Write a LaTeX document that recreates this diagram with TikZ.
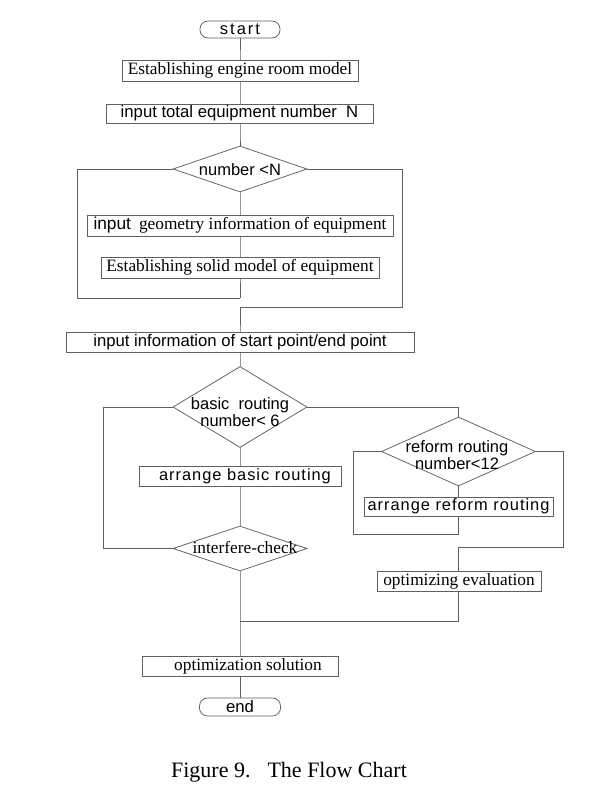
\documentclass[tikz,border=0pt]{standalone}
\usepackage{fontspec}
\setmainfont{Liberation Serif}
\newfontfamily\sansf{Liberation Sans}
\newfontfamily\sanswide[LetterSpace=6]{Liberation Sans}
\newfontfamily\sansstart[LetterSpace=12]{Liberation Sans}
\usetikzlibrary{shapes.geometric}
\definecolor{linec}{RGB}{95,95,95}
\tikzset{
  line/.style={draw=linec, line width=0.75pt},
  box/.style={draw=linec, line width=0.75pt, rectangle, inner sep=0pt, fill=white},
  term/.style={box, rounded corners=8pt},
  dia/.style={draw=linec, line width=0.75pt, diamond, inner sep=0pt, fill=white},
  ser/.style={font=\fontsize{17.3}{18}\selectfont},
  san/.style={font=\sansf\fontsize{16.7}{17}\selectfont},
  wid/.style={font=\sanswide\fontsize{16.4}{17}\selectfont},
  dtext/.style={align=center, inner sep=0pt, font=\sansf\fontsize{16.5}{16.5}\selectfont}
}
\begin{document}
\begin{tikzpicture}[x=1pt,y=-1pt]
\useasboundingbox[fill=white] (0,0) rectangle (595,792);

% junction coordinates
\coordinate (j1) at (240,298);
\coordinate (l1) at (77,298);
\coordinate (r1) at (402,307);
\coordinate (j2) at (240,307);
\coordinate (l2) at (103,548.5);
\coordinate (j3) at (458.5,534);
\coordinate (l3) at (353,534);
\coordinate (r3) at (563,547);
\coordinate (j5) at (458.5,547);
\coordinate (b4) at (458.5,621);
\coordinate (j4) at (240,621);

% connectors (drawn first, nodes on top)
\draw[line] (240,29.5) -- (240,70.5) -- (240,113.5) -- (240,169);
\draw[line] (240,169) -- (240,267.5) -- (j1);
\draw[line] (173,169) -| (l1) -- (j1);
\draw[line] (307,169) -| (r1) -- (j2) -- (240,342) -- (240,407) -- (240,548.5) -- (j4) -- (240,707);
\draw[line] (173,548.5) -- (l2) |- (173,407);
\draw[line] (307,407) -| (458.5,451.5) -- (j3) -- (l3) |- (381.5,451.5);
\draw[line] (535.5,451.5) -| (r3) -- (j5) -- (458.5,581) -- (b4) -- (j4);

% nodes
\node[term, font=\sansstart\fontsize{16.5}{17}\selectfont, minimum width=80pt, minimum height=17pt] (start) at (240,29.5) {start};
\node[box, ser, minimum width=236pt, minimum height=21pt] (est) at (240,70.5) {Establishing engine room model\hspace{7pt}};
\node[box, san, minimum width=267pt, minimum height=19pt] (inN) at (239.5,113.5) {input total equipment number\hspace{0.55em}N};
\node[dia, minimum width=134pt, minimum height=46pt] (d1) at (240,169) {};
\node[dtext] at (240,169.5) {number <N};
\node[box, ser, minimum width=306pt, minimum height=21pt] (geo) at (240,225.5) {{\sansf input}\hspace{8pt}geometry information of equipment\hspace{12pt}};
\node[box, ser, minimum width=278pt, minimum height=21pt] (solid) at (240,267.5) {Establishing solid model of equipment};
\node[box, san, minimum width=348pt, minimum height=20pt] (info) at (240,342) {input information of start point/end point\hspace{8pt}};
\node[dia, minimum width=134pt, minimum height=81pt] (d2) at (240,407) {};
\node[dtext] at (240,412) {basic\ \ routing\\number< 6};
\node[box, wid, minimum width=202pt, minimum height=20pt] (arrb) at (240,476) {\hspace{10pt}arrange basic routing};
\node[dia, minimum width=134pt, minimum height=45pt] (d3) at (240,548.5) {};
\node[ser, inner sep=0pt] at (245,547.5) {interfere-check};
\node[dia, minimum width=154pt, minimum height=69pt] (d4) at (458.5,451.5) {};
\node[dtext] at (457,455) {reform routing\\number<12};
\node[box, wid, minimum width=189pt, minimum height=19pt] (arrr) at (458.5,506.5) {arrange reform routing};
\node[box, ser, minimum width=164pt, minimum height=20pt] (opte) at (459,581) {optimizing evaluation};
\node[box, ser, minimum width=196pt, minimum height=20pt] (sol) at (240,666) {\hspace{16pt}optimization solution};
\node[term, san, minimum width=81pt, minimum height=18pt] (end) at (240,707) {end};

\node[font=\fontsize{22}{24}\selectfont, inner sep=0pt] (cap) at (289,772) {Figure 9.\hspace{17pt}The Flow Chart};
\end{tikzpicture}
\end{document}
